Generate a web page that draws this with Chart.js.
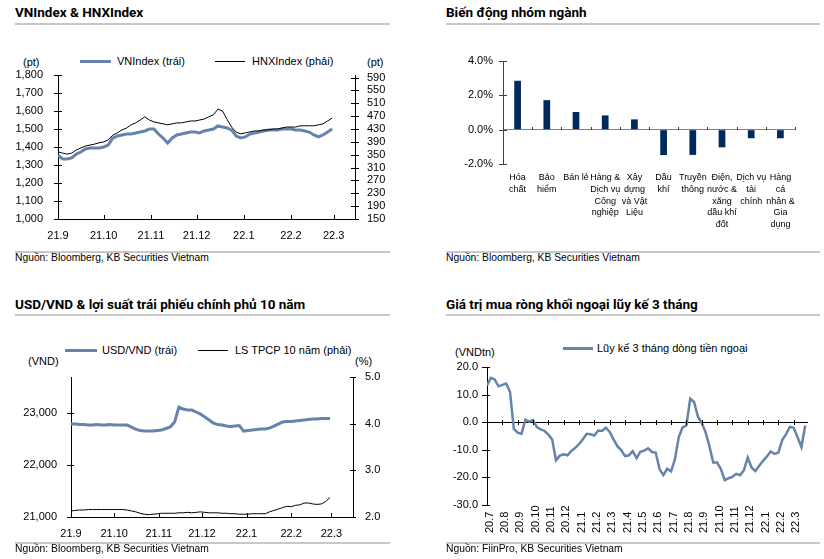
<!DOCTYPE html>
<html>
<head>
<meta charset="utf-8">
<script src="https://cdn.jsdelivr.net/npm/chart.js@4.4.1/dist/chart.umd.min.js"></script>
<style>
body { margin:0; width:824px; height:559px; background:#fff; position:relative; overflow:hidden;
       font-family:"Liberation Sans", Arial, sans-serif; color:#000; }
.t { position:absolute; white-space:nowrap; font-size:11px; line-height:11px; }
.title { position:absolute; white-space:nowrap; font:bold 13.5px/14px Roboto, "Liberation Sans", sans-serif; }
.src { position:absolute; white-space:nowrap; font-size:10.3px; line-height:10.3px; }
.rule { position:absolute; height:2px; background:#c8c8c8; }
.key { position:absolute; }
canvas { position:absolute; }
</style>
</head>
<body>

<!-- titres -->
<div class="title" style="left:15px;top:5px">VNIndex &amp; HNXIndex</div>
<div class="title" style="left:446px;top:5px">Biến động nhóm ngành</div>
<div class="title" style="left:15px;top:297px">USD/VND &amp; lợi suất trái phiếu chính phủ 10 năm</div>
<div class="title" style="left:446px;top:297px">Giá trị mua ròng khối ngoại lũy kế 3 tháng</div>
<div class="rule" style="left:15px;top:23px;width:375px"></div>
<div class="rule" style="left:446px;top:23px;width:374px"></div>
<div class="rule" style="left:15px;top:314px;width:375px"></div>
<div class="rule" style="left:446px;top:314px;width:374px"></div>

<!-- légendes et unités -->
<div class="key" style="left:80px;top:59.5px;width:31px;height:3px;background:#6683ab"></div>
<div class="t" style="left:117px;top:55.5px">VNIndex (trái)</div>
<div class="key" style="left:215px;top:60.5px;width:30px;height:1px;background:#000"></div>
<div class="t" style="left:252px;top:55.5px">HNXIndex (phải)</div>
<div class="t" style="left:23px;top:57px">(pt)</div>
<div class="t" style="left:367px;top:57px">(pt)</div>

<div class="key" style="left:65px;top:348.5px;width:32px;height:3px;background:#6683ab"></div>
<div class="t" style="left:102px;top:344.5px">USD/VND (trái)</div>
<div class="key" style="left:198px;top:349.5px;width:30px;height:1px;background:#000"></div>
<div class="t" style="left:235px;top:344.5px">LS TPCP 10 năm (phải)</div>
<div class="t" style="left:28px;top:356px">(VND)</div>
<div class="t" style="left:355px;top:356px">(%)</div>

<div class="key" style="left:563px;top:347px;width:30px;height:3px;background:#6683ab"></div>
<div class="t" style="left:597px;top:343px">Lũy kế 3 tháng dòng tiền ngoại</div>
<div class="t" style="left:455px;top:347px">(VNDtn)</div>

<canvas id="c1" width="412" height="250" style="left:0;top:0"></canvas>
<canvas id="c2" width="412" height="250" style="left:412px;top:0"></canvas>
<canvas id="c3" width="412" height="253" style="left:0;top:290px"></canvas>
<canvas id="c4" width="412" height="253" style="left:412px;top:290px"></canvas>

<!-- sources -->
<div class="rule" style="left:15px;top:251px;width:375px"></div>
<div class="rule" style="left:446px;top:251px;width:374px"></div>
<div class="rule" style="left:15px;top:542px;width:375px"></div>
<div class="rule" style="left:446px;top:542px;width:374px"></div>
<div class="src" style="left:15px;top:252.6px">Nguồn: Bloomberg, KB Securities Vietnam</div>
<div class="src" style="left:446px;top:252.6px">Nguồn: Bloomberg, KB Securities Vietnam</div>
<div class="src" style="left:15px;top:544.3px">Nguồn: Bloomberg, KB Securities Vietnam</div>
<div class="src" style="left:446px;top:544.3px">Nguồn: FiinPro, KB Securities Vietnam</div>

<script>
// --- Données ---

// VNIndex & HNXIndex : un point tous les 3 jours depuis le 1/9/2021
const monthLabels = ['21.9', '21.10', '21.11', '21.12', '22.1', '22.2', '22.3'];
const monthStartDay = [0, 30, 61, 91, 122, 153, 181];
const stepDays = 3;
const vnIndex = [1356, 1333, 1333, 1339, 1361, 1372, 1389, 1394, 1394, 1394, 1400, 1411, 1450, 1461, 1467, 1472,
  1472, 1478, 1483, 1489, 1500, 1500, 1472, 1450, 1422, 1450, 1467, 1472, 1478, 1483, 1483, 1478, 1489, 1494,
  1500, 1517, 1511, 1506, 1494, 1461, 1450, 1456, 1472, 1478, 1483, 1489, 1494, 1494, 1494, 1500, 1500, 1500,
  1494, 1494, 1489, 1483, 1467, 1456, 1467, 1483, 1500];
const hnxIndex = [359, 355, 352, 355, 365, 371, 377, 380, 383, 387, 390, 396, 411, 418, 427, 433, 443, 449, 458,
  468, 458, 452, 449, 446, 443, 446, 449, 449, 452, 455, 455, 458, 461, 468, 474, 492, 486, 460, 436, 420, 415,
  418, 421, 424, 424, 427, 427, 430, 430, 433, 436, 436, 436, 440, 440, 440, 440, 443, 446, 455, 464];
const vnTicks = [1000, 1100, 1200, 1300, 1400, 1500, 1600, 1700, 1800];
const hnxTicks = [150, 190, 230, 270, 310, 350, 390, 430, 470, 510, 550, 590];

// Biến động nhóm ngành (%)
const sectors = [['Hóa', 'chất'], ['Bảo', 'hiểm'], ['Bán lẻ'], ['Hàng &', 'Dịch vụ', 'Công', 'nghiệp'],
  ['Xây', 'dựng', 'và Vật', 'Liệu'], ['Dầu', 'khí'], ['Truyền', 'thông'], ['Điện,', 'nước &', 'xăng', 'dầu khí', 'đốt'],
  ['Dịch vụ', 'tài', 'chính'], ['Hàng', 'cá', 'nhân &', 'Gia', 'dụng']];
const sectorChange = [2.85, 1.72, 1.03, 0.83, 0.6, -1.48, -1.47, -1.03, -0.5, -0.5];
const sectorTicks = [-2, 0, 2, 4];

// USD/VND & lợi suất TPCP 10 năm : un point tous les 3 jours depuis le 1/9/2021
const usdVnd = [22793, 22793, 22783, 22783, 22773, 22773, 22783, 22773, 22773, 22783, 22773, 22773, 22773, 22773,
  22735, 22696, 22667, 22657, 22657, 22657, 22667, 22677, 22706, 22735, 22831, 23121, 23083, 23063, 23063, 23025,
  22986, 22928, 22870, 22812, 22783, 22773, 22754, 22744, 22754, 22764, 22657, 22667, 22677, 22686, 22696, 22696,
  22715, 22754, 22793, 22831, 22841, 22841, 22851, 22860, 22870, 22880, 22889, 22889, 22899, 22899, 22899];
const bondYield = [2.13, 2.14, 2.15, 2.15, 2.16, 2.16, 2.16, 2.16, 2.16, 2.16, 2.16, 2.16, 2.16, 2.15, 2.13, 2.11,
  2.08, 2.06, 2.05, 2.06, 2.07, 2.08, 2.08, 2.08, 2.08, 2.09, 2.09, 2.10, 2.09, 2.10, 2.11, 2.10, 2.09, 2.09, 2.09,
  2.08, 2.08, 2.07, 2.07, 2.06, 2.06, 2.06, 2.07, 2.07, 2.07, 2.07, 2.11, 2.14, 2.17, 2.20, 2.23, 2.22, 2.25, 2.26,
  2.30, 2.30, 2.28, 2.27, 2.28, 2.33, 2.42];
const usdTicks = [21000, 22000, 23000];
const yieldTicks = [2, 3, 4, 5];

// Lũy kế 3 tháng dòng tiền ngoại (nghìn tỷ VND) : un point tous les quarts de mois depuis 7/2020
const flowMonths = ['20.7', '20.8', '20.9', '20.10', '20.11', '20.12', '21.1', '21.2', '21.3', '21.4', '21.5',
  '21.6', '21.7', '21.8', '21.9', '21.10', '21.11', '21.12', '22.1', '22.2', '22.3'];
const stepMonth = 0.25;
const foreignFlow = [13.3, 16.1, 15.5, 13.0, 13.5, 14.0, 11.0, -2.4, -3.8, -4.2, 0.9, 0.2, 0.8, -1.8, -2.6, -3.1,
  -4.5, -6.3, -13.8, -12.1, -11.6, -12.0, -10.4, -9.3, -8.0, -6.2, -4.2, -4.4, -4.8, -3.0, -3.2, -2.0, -3.5, -6.2,
  -8.7, -10.1, -12.3, -12.0, -10.5, -13.0, -10.7, -10.3, -9.5, -10.8, -11.0, -17.0, -19.2, -16.9, -17.8, -13.5,
  -5.5, -1.9, -1.2, 8.5, 7.3, 2.1, -0.3, -3.6, -8.6, -14.6, -14.6, -17.0, -21.0, -20.3, -19.8, -18.7, -19.2, -17.4,
  -12.8, -16.4, -17.7, -15.8, -14.0, -12.4, -10.6, -11.5, -11.0, -6.5, -4.3, -1.7, -2.0, -5.4, -9.0, -1.2];
const flowTicks = [-30, -20, -10, 0, 10, 20];

// --- Réglages communs ---
const BLUE = '#6683ab';
const NAVY = '#002a5c';
Chart.defaults.font.family = '"Liberation Sans", Arial, sans-serif';
Chart.defaults.font.size = 11;
Chart.defaults.color = '#000';

const pts = (arr, step) => arr.map((v, i) => ({ x: i * step, y: v }));
const fixedTicks = list => s => { s.ticks = list.map(v => ({ value: v })); };
const noGrid = { display: false, drawTicks: false };

// petits traits de graduation (croisés sur Y, vers l'intérieur sur X)
const tickMarks = {
  id: 'tickMarks',
  afterDraw(chart, args, opts) {
    const ctx = chart.ctx;
    ctx.save();
    ctx.lineWidth = 1;
    (opts.y || []).forEach(a => {
      const s = chart.scales[a.id];
      const left = s.position === 'left';
      const x0 = left ? s.right : s.left;
      const dir = left ? -1 : 1;
      ctx.strokeStyle = a.color || '#000';
      ctx.beginPath();
      s.ticks.forEach(t => {
        const y = Math.round(s.getPixelForValue(t.value)) + 0.5;
        ctx.moveTo(x0 + dir * a.out, y);
        ctx.lineTo(x0 - dir * a.in, y);
      });
      ctx.stroke();
    });
    if (opts.x) {
      const a = opts.x, s = chart.scales.x;
      const y0 = a.zeroOn ? Math.round(chart.scales[a.zeroOn].getPixelForValue(0)) : s.top;
      let xs;
      if (s.type === 'category') {
        const w = (s.right - s.left) / s.ticks.length;
        xs = s.ticks.map((t, i) => s.left + i * w).concat([s.right]);
      } else {
        xs = s.ticks.map(t => s.getPixelForValue(t.value));
      }
      ctx.strokeStyle = a.color || '#000';
      ctx.beginPath();
      xs.forEach(x => {
        x = Math.round(x) + 0.5;
        ctx.moveTo(x, y0 + (a.down || 0));
        ctx.lineTo(x, y0 - a.up);
      });
      ctx.stroke();
    }
    ctx.restore();
  }
};

// étiquettes de mois verticales, alignées en bas comme dans Excel
const rotatedLabels = {
  id: 'rotatedLabels',
  afterDraw(chart, args, opts) {
    if (!opts.labels) return;
    const s = chart.scales.x, ctx = chart.ctx;
    ctx.save();
    ctx.font = '11px "Liberation Sans", Arial, sans-serif';
    ctx.fillStyle = '#000';
    ctx.textAlign = 'left';
    ctx.textBaseline = 'middle';
    opts.labels.forEach((lab, k) => {
      ctx.save();
      ctx.translate(s.getPixelForValue(k) + opts.shift, chart.chartArea.bottom + opts.gap);
      ctx.rotate(-Math.PI / 2);
      ctx.fillText(lab, 0, 0);
      ctx.restore();
    });
    ctx.restore();
  }
};

const base = { responsive: false, animation: false, events: [], devicePixelRatio: 1 };

// VNIndex & HNXIndex
new Chart(document.getElementById('c1'), {
  type: 'line',
  data: { datasets: [
    { label: 'VNIndex (trái)', data: pts(vnIndex, stepDays), yAxisID: 'y', borderColor: BLUE, borderWidth: 3, pointRadius: 0, order: 2 },
    { label: 'HNXIndex (phải)', data: pts(hnxIndex, stepDays), yAxisID: 'y2', borderColor: '#000', borderWidth: 1, pointRadius: 0, order: 1 }
  ]},
  options: { ...base,
    layout: { padding: { left: 0, right: 12, top: 75, bottom: 6 } },
    plugins: { legend: { display: false }, tooltip: { enabled: false },
      tickMarks: { y: [{ id: 'y', out: 4, in: 4 }, { id: 'y2', out: 4, in: 4 }], x: { up: 4 } } },
    scales: {
      x: { type: 'linear', min: 0, max: 195, afterBuildTicks: fixedTicks(monthStartDay), afterFit: s => { s.height = 25; },
           ticks: { autoSkip: false, maxRotation: 0, padding: 10, callback: (v, i) => monthLabels[i] },
           grid: noGrid, border: { color: '#000' } },
      y: { position: 'left', min: 1000, max: 1800, afterBuildTicks: fixedTicks(vnTicks), afterFit: s => { s.width = 58; },
           ticks: { autoSkip: false, padding: 15, callback: v => v.toLocaleString('en-US') }, grid: noGrid, border: { color: '#000' } },
      y2: { position: 'right', min: 150, max: 598, afterBuildTicks: fixedTicks(hnxTicks), afterFit: s => { s.width = 45; },
           ticks: { autoSkip: false, padding: 12 }, grid: noGrid, border: { color: '#000' } }
    }
  },
  plugins: [tickMarks]
});

// Biến động nhóm ngành
new Chart(document.getElementById('c2'), {
  type: 'bar',
  data: { labels: sectors, datasets: [
    { data: sectorChange, backgroundColor: NAVY, barPercentage: 0.23, categoryPercentage: 1 }
  ]},
  options: { ...base,
    layout: { padding: { left: 46, right: 29, top: 61, bottom: 6 } },
    plugins: { legend: { display: false }, tooltip: { enabled: false },
      tickMarks: { y: [{ id: 'y', out: 4, in: 4, color: '#404040' }], x: { zeroOn: 'y', up: 3, color: '#404040' } } },
    scales: {
      x: { afterFit: s => { s.height = 80; },
           ticks: { autoSkip: false, maxRotation: 0, padding: 8, font: { size: 9, lineHeight: 1.3 } },
           grid: noGrid, border: { display: false } },
      y: { min: -2, max: 4, afterBuildTicks: fixedTicks(sectorTicks), afterFit: s => { s.width = 45; },
           ticks: { autoSkip: false, padding: 10, callback: v => v.toFixed(1) + '%' },
           grid: { drawTicks: false, color: c => (c.tick && c.tick.value === 0 ? '#808080' : 'rgba(0,0,0,0)') },
           border: { color: '#404040' } }
    }
  },
  plugins: [tickMarks]
});

// USD/VND & lợi suất TPCP 10 năm
new Chart(document.getElementById('c3'), {
  type: 'line',
  data: { datasets: [
    { label: 'USD/VND (trái)', data: pts(usdVnd, stepDays), yAxisID: 'y', borderColor: BLUE, borderWidth: 3, pointRadius: 0 },
    { label: 'LS TPCP 10 năm (phải)', data: pts(bondYield, stepDays), yAxisID: 'y2', borderColor: '#000', borderWidth: 1, pointRadius: 0 }
  ]},
  options: { ...base,
    layout: { padding: { left: 0, right: 12, top: 87, bottom: 1 } },
    plugins: { legend: { display: false }, tooltip: { enabled: false },
      tickMarks: { y: [{ id: 'y', out: 4, in: 3 }, { id: 'y2', out: 3, in: 3 }], x: { up: 4 } } },
    scales: {
      x: { type: 'linear', min: 0, max: 196, afterBuildTicks: fixedTicks(monthStartDay), afterFit: s => { s.height = 25; },
           ticks: { autoSkip: false, maxRotation: 0, padding: 10, callback: (v, i) => monthLabels[i] },
           grid: noGrid, border: { color: '#000' } },
      y: { position: 'left', min: 21000, max: 23700, afterBuildTicks: fixedTicks(usdTicks), afterFit: s => { s.width = 71; },
           ticks: { autoSkip: false, padding: 14, callback: v => v.toLocaleString('en-US') }, grid: noGrid, border: { color: '#000' } },
      y2: { position: 'right', min: 2, max: 5, afterBuildTicks: fixedTicks(yieldTicks), afterFit: s => { s.width = 47; },
           ticks: { autoSkip: false, padding: 12, callback: v => v.toFixed(1) }, grid: noGrid, border: { color: '#000' } }
    }
  },
  plugins: [tickMarks]
});

// Giá trị mua ròng khối ngoại lũy kế 3 tháng
new Chart(document.getElementById('c4'), {
  type: 'line',
  data: { datasets: [
    { label: 'Lũy kế 3 tháng dòng tiền ngoại', data: pts(foreignFlow, stepMonth), borderColor: BLUE, borderWidth: 2.5, pointRadius: 0 }
  ]},
  options: { ...base,
    layout: { padding: { left: 35, right: 16, top: 77, bottom: 8 } },
    plugins: { legend: { display: false }, tooltip: { enabled: false },
      tickMarks: { y: [{ id: 'y', out: 5, in: 3 }], x: { zeroOn: 'y', up: 2, down: 3 } },
      rotatedLabels: { labels: flowMonths, gap: 28, shift: 2.5 } },
    scales: {
      x: { type: 'linear', min: 0, max: 20.93, afterBuildTicks: fixedTicks(flowMonths.map((m, k) => k)),
           afterFit: s => { s.height = 30; }, ticks: { display: false }, grid: noGrid, border: { display: false } },
      y: { min: -30, max: 20, afterBuildTicks: fixedTicks(flowTicks), afterFit: s => { s.width = 40; },
           ticks: { autoSkip: false, padding: 9, callback: v => v.toFixed(1) },
           grid: { drawTicks: false, color: c => (c.tick && c.tick.value === 0 ? '#000' : 'rgba(0,0,0,0)') },
           border: { color: '#000' } }
    }
  },
  plugins: [tickMarks, rotatedLabels]
});
</script>
</body>
</html>
